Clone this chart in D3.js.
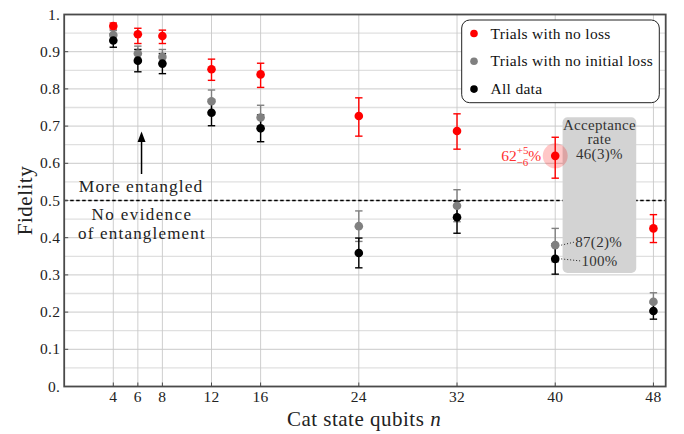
<!DOCTYPE html>
<html>
<head>
<meta charset="utf-8">
<script src="https://cdn.jsdelivr.net/npm/d3@7"></script>
<style>
  html, body { margin: 0; padding: 0; background: #fff; }
  svg { display: block; }
</style>
</head>
<body>
<svg id="chart" width="684" height="434" font-family="'Liberation Serif', 'Times New Roman', serif"></svg>
<script>
// Cat state size n
const qubits = [4, 6, 8, 12, 16, 24, 32, 40, 48];
const xTickValues = [4, 6, 8, 12, 16, 24, 32, 40, 48];
const yTickValues = [0, 0.1, 0.2, 0.3, 0.4, 0.5, 0.6, 0.7, 0.8, 0.9, 1.0];
const yTickLabels = ["0.", "0.1", "0.2", "0.3", "0.4", "0.5", "0.6", "0.7", "0.8", "0.9", "1."];

// Fidelity, trials with no loss (asymmetric error bars)
const noLoss      = [0.969, 0.947, 0.942, 0.853, 0.839, 0.727, 0.687, 0.62, 0.425];
const noLossUp    = [0.008, 0.016, 0.016, 0.027, 0.030, 0.049, 0.046, 0.05, 0.037];
const noLossDown  = [0.008, 0.025, 0.020, 0.030, 0.035, 0.054, 0.049, 0.06, 0.038];

// Fidelity, trials with no initial loss
const noInitialLoss    = [0.945, 0.895, 0.886, 0.767, 0.723, 0.431, 0.486, 0.380, 0.228];
const noInitialLossErr = [0.012, 0.020, 0.020, 0.030, 0.033, 0.041, 0.043, 0.045, 0.024];

// Fidelity, all data
const allData    = [0.930, 0.876, 0.868, 0.736, 0.694, 0.359, 0.455, 0.343, 0.203];
const allDataErr = [0.018, 0.030, 0.027, 0.035, 0.036, 0.040, 0.043, 0.041, 0.022];

const entanglementBound = 0.5;
const highlightN = 40;
const seriesNames = ["Trials with no loss", "Trials with no initial loss", "All data"];
const seriesColors = ["#ff0000", "#808080", "#000000"];
const acceptanceLabels = ["46(3)%", "87(2)%", "100%"];

const serif = "'Liberation Serif', 'Times New Roman', serif";
const svg = d3.select("#chart");
const plotLeft = 64.2, plotRight = 665.7, plotTop = 14.5, plotBottom = 386.5;
const x = d3.scaleLinear().domain([0, 49]).range([plotLeft, plotRight]);
const y = d3.scaleLinear().domain([0, 1]).range([plotBottom, plotTop]);

function label(parent, px, py, size, fill, str, anchor, spacing) {
  return parent.append("text").attr("x", px).attr("y", py)
    .attr("font-family", serif).attr("font-size", size).attr("fill", fill)
    .attr("letter-spacing", spacing || 0)
    .attr("text-anchor", anchor || "start").text(str);
}

// Grid: horizontal every 0.05 (minor lighter), vertical at ticks
const grid = svg.append("g");
d3.range(1, 20).forEach(k => {
  const v = k * 0.05;
  const major = (k % 2 === 0);
  grid.append("line")
    .attr("x1", plotLeft).attr("x2", plotRight)
    .attr("y1", y(v)).attr("y2", y(v))
    .attr("stroke", major ? "#c4c4c4" : "#e0e0e0")
    .attr("stroke-width", major ? 0.9 : 1.3);
});
xTickValues.forEach(v => {
  grid.append("line")
    .attr("x1", x(v)).attr("x2", x(v))
    .attr("y1", plotTop).attr("y2", plotBottom)
    .attr("stroke", "#c8c8c8").attr("stroke-width", 0.9);
});

// Entanglement witness threshold
svg.append("line")
  .attr("x1", plotLeft).attr("x2", plotRight)
  .attr("y1", y(entanglementBound)).attr("y2", y(entanglementBound))
  .attr("stroke", "#000").attr("stroke-width", 1.6)
  .attr("stroke-dasharray", "3.5,2.5");

// Acceptance-rate panel
svg.append("rect")
  .attr("x", x(40.6)).attr("y", y(0.724))
  .attr("width", x(46.6) - x(40.6)).attr("height", y(0.305) - y(0.724))
  .attr("rx", 5).attr("fill", "#d3d3d3");
const accX = x(43.6);
label(svg, accX, 129.5, 15, "#333", "Acceptance", "middle", 0.3);
label(svg, accX, 144, 15, "#333", "rate", "middle", 0.3);
label(svg, accX, 159, 15, "#333", acceptanceLabels[0], "middle", 0.3);

// Highlight around the no-loss point at n = 40
const hi = qubits.indexOf(highlightN);
svg.append("circle")
  .attr("cx", x(highlightN)).attr("cy", y(noLoss[hi]))
  .attr("r", 12.5).attr("fill", "rgba(255,0,0,0.22)");

// Frame
svg.append("rect")
  .attr("x", plotLeft).attr("y", plotTop)
  .attr("width", plotRight - plotLeft).attr("height", plotBottom - plotTop)
  .attr("fill", "none").attr("stroke", "#4a4a4a").attr("stroke-width", 1.8);

// Axis ticks and labels
const axes = svg.append("g");
yTickValues.forEach((v, i) => {
  axes.append("line").attr("x1", plotLeft).attr("x2", plotLeft + 4)
    .attr("y1", y(v)).attr("y2", y(v)).attr("stroke", "#4a4a4a").attr("stroke-width", 1);
  label(axes, plotLeft - 4, y(v) + 5, 15.5, "#222", yTickLabels[i], "end", 0.3);
});
xTickValues.forEach(v => {
  axes.append("line").attr("x1", x(v)).attr("x2", x(v))
    .attr("y1", plotBottom).attr("y2", plotBottom - 4).attr("stroke", "#4a4a4a").attr("stroke-width", 1);
  label(axes, x(v), 402, 15.5, "#222", v, "middle", 0.3);
});

// Axis titles
const xTitle = label(svg, 364, 426, 21, "#222", null, "middle", 0.5);
xTitle.append("tspan").text("Cat state qubits ");
xTitle.append("tspan").attr("font-style", "italic").text("n");
svg.append("text")
  .attr("transform", `translate(32,${y(0.5)}) rotate(-90)`)
  .attr("font-family", serif).attr("letter-spacing", 0.5)
  .attr("text-anchor", "middle").attr("font-size", 21).attr("fill", "#222")
  .text("Fidelity");

// Data series: all error bars first, then dots on top
const series = [
  { values: noLoss, up: noLossUp, down: noLossDown, color: seriesColors[0] },
  { values: noInitialLoss, up: noInitialLossErr, down: noInitialLossErr, color: seriesColors[1] },
  { values: allData, up: allDataErr, down: allDataErr, color: seriesColors[2] }
];
const bars = svg.append("g");
const dots = svg.append("g");
series.forEach(s => {
  const cap = 3.7;
  qubits.forEach((n, i) => {
    const cx = x(n), yt = y(s.values[i] + s.up[i]), yb = y(s.values[i] - s.down[i]);
    bars.append("line").attr("x1", cx).attr("x2", cx).attr("y1", yt).attr("y2", yb)
      .attr("stroke", s.color).attr("stroke-width", 1.4);
    [yt, yb].forEach(yy => bars.append("line")
      .attr("x1", cx - cap).attr("x2", cx + cap).attr("y1", yy).attr("y2", yy)
      .attr("stroke", s.color).attr("stroke-width", 1.4));
  });
});
series.forEach(s => {
  dots.append("g").selectAll("circle").data(s.values).join("circle")
    .attr("cx", (d, i) => x(qubits[i])).attr("cy", d => y(d))
    .attr("r", 4.3).attr("fill", s.color);
});

// Labels on the n = 40 points
const redLabel = label(svg, x(highlightN) - 14, 160.5, 15.5, "#ff3030", null, "end");
redLabel.append("tspan").text(Math.round(noLoss[hi] * 100));
redLabel.append("tspan").attr("font-size", 11).attr("dy", -6.5)
  .text("+" + Math.round(noLossUp[hi] * 100));
redLabel.append("tspan").attr("font-size", 11).attr("dx", -12).attr("dy", 12)
  .text("\u2212" + Math.round(noLossDown[hi] * 100));
redLabel.append("tspan").attr("dy", -5.5).text("%");

svg.append("path")
  .attr("d", `M${x(highlightN) + 6},${y(noInitialLoss[hi])} L${x(41.55)},${y(noInitialLoss[hi]) - 3}`)
  .attr("stroke", "#222").attr("stroke-width", 1).attr("stroke-dasharray", "1,2").attr("fill", "none");
svg.append("path")
  .attr("d", `M${x(highlightN) + 6},${y(allData[hi])} L${x(42.05)},${y(allData[hi]) + 2}`)
  .attr("stroke", "#222").attr("stroke-width", 1).attr("stroke-dasharray", "1,2").attr("fill", "none");
label(svg, x(41.55) + 1, 246.5, 15, "#333", acceptanceLabels[1], "start", 0.3);
label(svg, x(42.05) + 1, 266, 15, "#333", acceptanceLabels[2], "start", 0.3);

// Entanglement annotation
const arrowX = x(6.3);
svg.append("line").attr("x1", arrowX).attr("x2", arrowX)
  .attr("y1", 174).attr("y2", 140).attr("stroke", "#000").attr("stroke-width", 1.5);
svg.append("path")
  .attr("d", `M${arrowX},131.5 L${arrowX - 4},142 L${arrowX + 4},142 Z`).attr("fill", "#000");
label(svg, 141, 192, 17.5, "#222", "More entangled", "middle", 1);
label(svg, 142, 220, 17, "#222", "No evidence", "middle", 1.4);
label(svg, 142, 239, 17, "#222", "of entanglement", "middle", 1.2);

// Legend
const legend = svg.append("g");
legend.append("rect").attr("x", 461.7).attr("y", 20).attr("width", 197.6).attr("height", 82.7)
  .attr("rx", 8).attr("fill", "#fff").attr("stroke", "#222").attr("stroke-width", 1);
seriesNames.forEach((name, i) => {
  const cy = 33.5 + i * 27.8;
  legend.append("circle").attr("cx", 474).attr("cy", cy).attr("r", 3.8).attr("fill", seriesColors[i]);
  label(legend, 490.5, cy + 5, 15.5, "#111", name, "start", 0.3);
});
</script>
</body>
</html>
